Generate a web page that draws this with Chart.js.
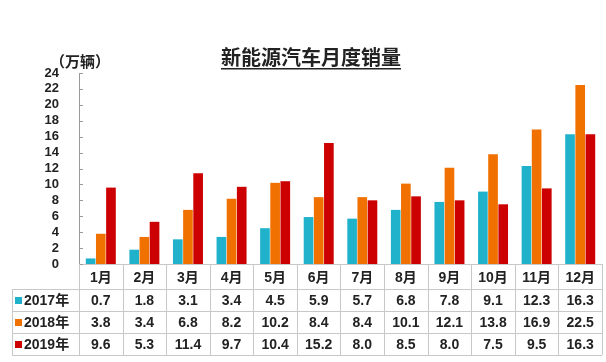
<!DOCTYPE html>
<html lang="zh">
<head>
    <meta charset="UTF-8">
    <title>新能源汽车月度销量</title>
    <script src="https://cdn.jsdelivr.net/npm/chart.js"></script>
    <style>
        body { margin: 0; background: #fff; }
    </style>
</head>
<body>
    <canvas id="salesChart" width="606" height="362"></canvas>

    <script>
        var months = ['1月', '2月', '3月', '4月', '5月', '6月', '7月', '8月', '9月', '10月', '11月', '12月'];
        var seriesNames = ['2017年', '2018年', '2019年'];
        var sales2017 = [0.7, 1.8, 3.1, 3.4, 4.5, 5.9, 5.7, 6.8, 7.8, 9.1, 12.3, 16.3];
        var sales2018 = [3.8, 3.4, 6.8, 8.2, 10.2, 8.4, 8.4, 10.1, 12.1, 13.8, 16.9, 22.5];
        var sales2019 = [9.6, 5.3, 11.4, 9.7, 10.4, 15.2, 8.0, 8.5, 8.0, 7.5, 9.5, 16.3];
        var colors = ['#21b2cb', '#f07000', '#cc0000'];

        var FONT = 'Arial, "Liberation Sans", "Noto Sans CJK SC", sans-serif';

        // title, unit label, inward ticks and the data table under the bars
        var tablePlugin = {
            id: 'tablePlugin',
            afterDraw: function (chart) {
                var ctx = chart.ctx;
                var x = chart.scales.x;
                var y = chart.scales.y;
                var area = chart.chartArea;
                ctx.save();

                // title
                ctx.fillStyle = '#222';
                ctx.font = 'bold 20px ' + FONT;
                ctx.textAlign = 'center';
                ctx.textBaseline = 'middle';
                var title = '新能源汽车月度销量';
                ctx.fillText(title, 311, 59);
                var tw = ctx.measureText(title).width;
                ctx.fillRect(311 - tw / 2, 68, tw, 1.5);

                // unit
                ctx.font = 'bold 15px ' + FONT;
                ctx.textAlign = 'left';
                ctx.fillText('（万辆）', 50, 63);

                // inward tick marks
                ctx.strokeStyle = '#999';
                ctx.lineWidth = 1;
                y.ticks.forEach(function (t) {
                    var py = Math.round(y.getPixelForValue(t.value)) + 0.5;
                    ctx.beginPath();
                    ctx.moveTo(area.left, py);
                    ctx.lineTo(area.left + 4, py);
                    ctx.stroke();
                });

                // table grid
                var half = (x.getPixelForValue(1) - x.getPixelForValue(0)) / 2;
                var rowTops = [area.bottom, 289, 311, 333, 355];
                ctx.strokeStyle = '#c8c8c8';
                ctx.beginPath();
                for (var r = 1; r < rowTops.length; r++) {
                    ctx.moveTo(12, rowTops[r] + 0.5);
                    ctx.lineTo(area.right, rowTops[r] + 0.5);
                }
                for (var i = 0; i <= months.length; i++) {
                    var px = Math.round(x.getPixelForValue(i) - half) + 0.5;
                    ctx.moveTo(px, area.bottom);
                    ctx.lineTo(px, rowTops[4]);
                }
                ctx.moveTo(12.5, rowTops[1]);
                ctx.lineTo(12.5, rowTops[4]);
                ctx.stroke();

                // rows
                var rows = [sales2017, sales2018, sales2019];
                ctx.font = 'bold 14px ' + FONT;
                ctx.textBaseline = 'middle';
                rows.forEach(function (vals, r) {
                    var cy = (rowTops[r + 1] + rowTops[r + 2]) / 2 + 1;
                    ctx.fillStyle = colors[r];
                    ctx.fillRect(15, cy - 4, 7, 7);
                    ctx.fillStyle = '#222';
                    ctx.textAlign = 'left';
                    ctx.fillText(seriesNames[r], 24, cy);
                    ctx.textAlign = 'center';
                    vals.forEach(function (v, i) {
                        ctx.fillText(v.toFixed(1), x.getPixelForValue(i), cy);
                    });
                });

                ctx.restore();
            }
        };

        var ctx = document.getElementById('salesChart').getContext('2d');
        var salesChart = new Chart(ctx, {
            type: 'bar',
            data: {
                labels: months,
                datasets: [
                    { label: seriesNames[0], data: sales2017, backgroundColor: colors[0] },
                    { label: seriesNames[1], data: sales2018, backgroundColor: colors[1] },
                    { label: seriesNames[2], data: sales2019, backgroundColor: colors[2] }
                ]
            },
            options: {
                responsive: false,
                animation: false,
                layout: { padding: { top: 73, right: 4, left: 0, bottom: 0 } },
                datasets: {
                    bar: { categoryPercentage: 0.7, barPercentage: 0.95 }
                },
                scales: {
                    x: {
                        afterFit: function (scale) { scale.height = 98; },
                        grid: { display: true, drawOnChartArea: false, drawTicks: false },
                        border: { display: true, color: '#c8c8c8' },
                        ticks: {
                            padding: 6,
                            color: '#222',
                            font: { family: FONT, size: 14, weight: 'bold' }
                        }
                    },
                    y: {
                        min: 0,
                        max: 24,
                        afterFit: function (scale) { scale.width = 79; },
                        grid: { display: false, drawTicks: false },
                        border: { display: true, color: '#999' },
                        ticks: {
                            stepSize: 2,
                            autoSkip: false,
                            padding: 20,
                            color: '#222',
                            font: { family: FONT, size: 13, weight: 'bold' }
                        }
                    }
                },
                plugins: {
                    legend: { display: false },
                    tooltip: { enabled: false }
                }
            },
            plugins: [tablePlugin]
        });
    </script>
</body>
</html>
